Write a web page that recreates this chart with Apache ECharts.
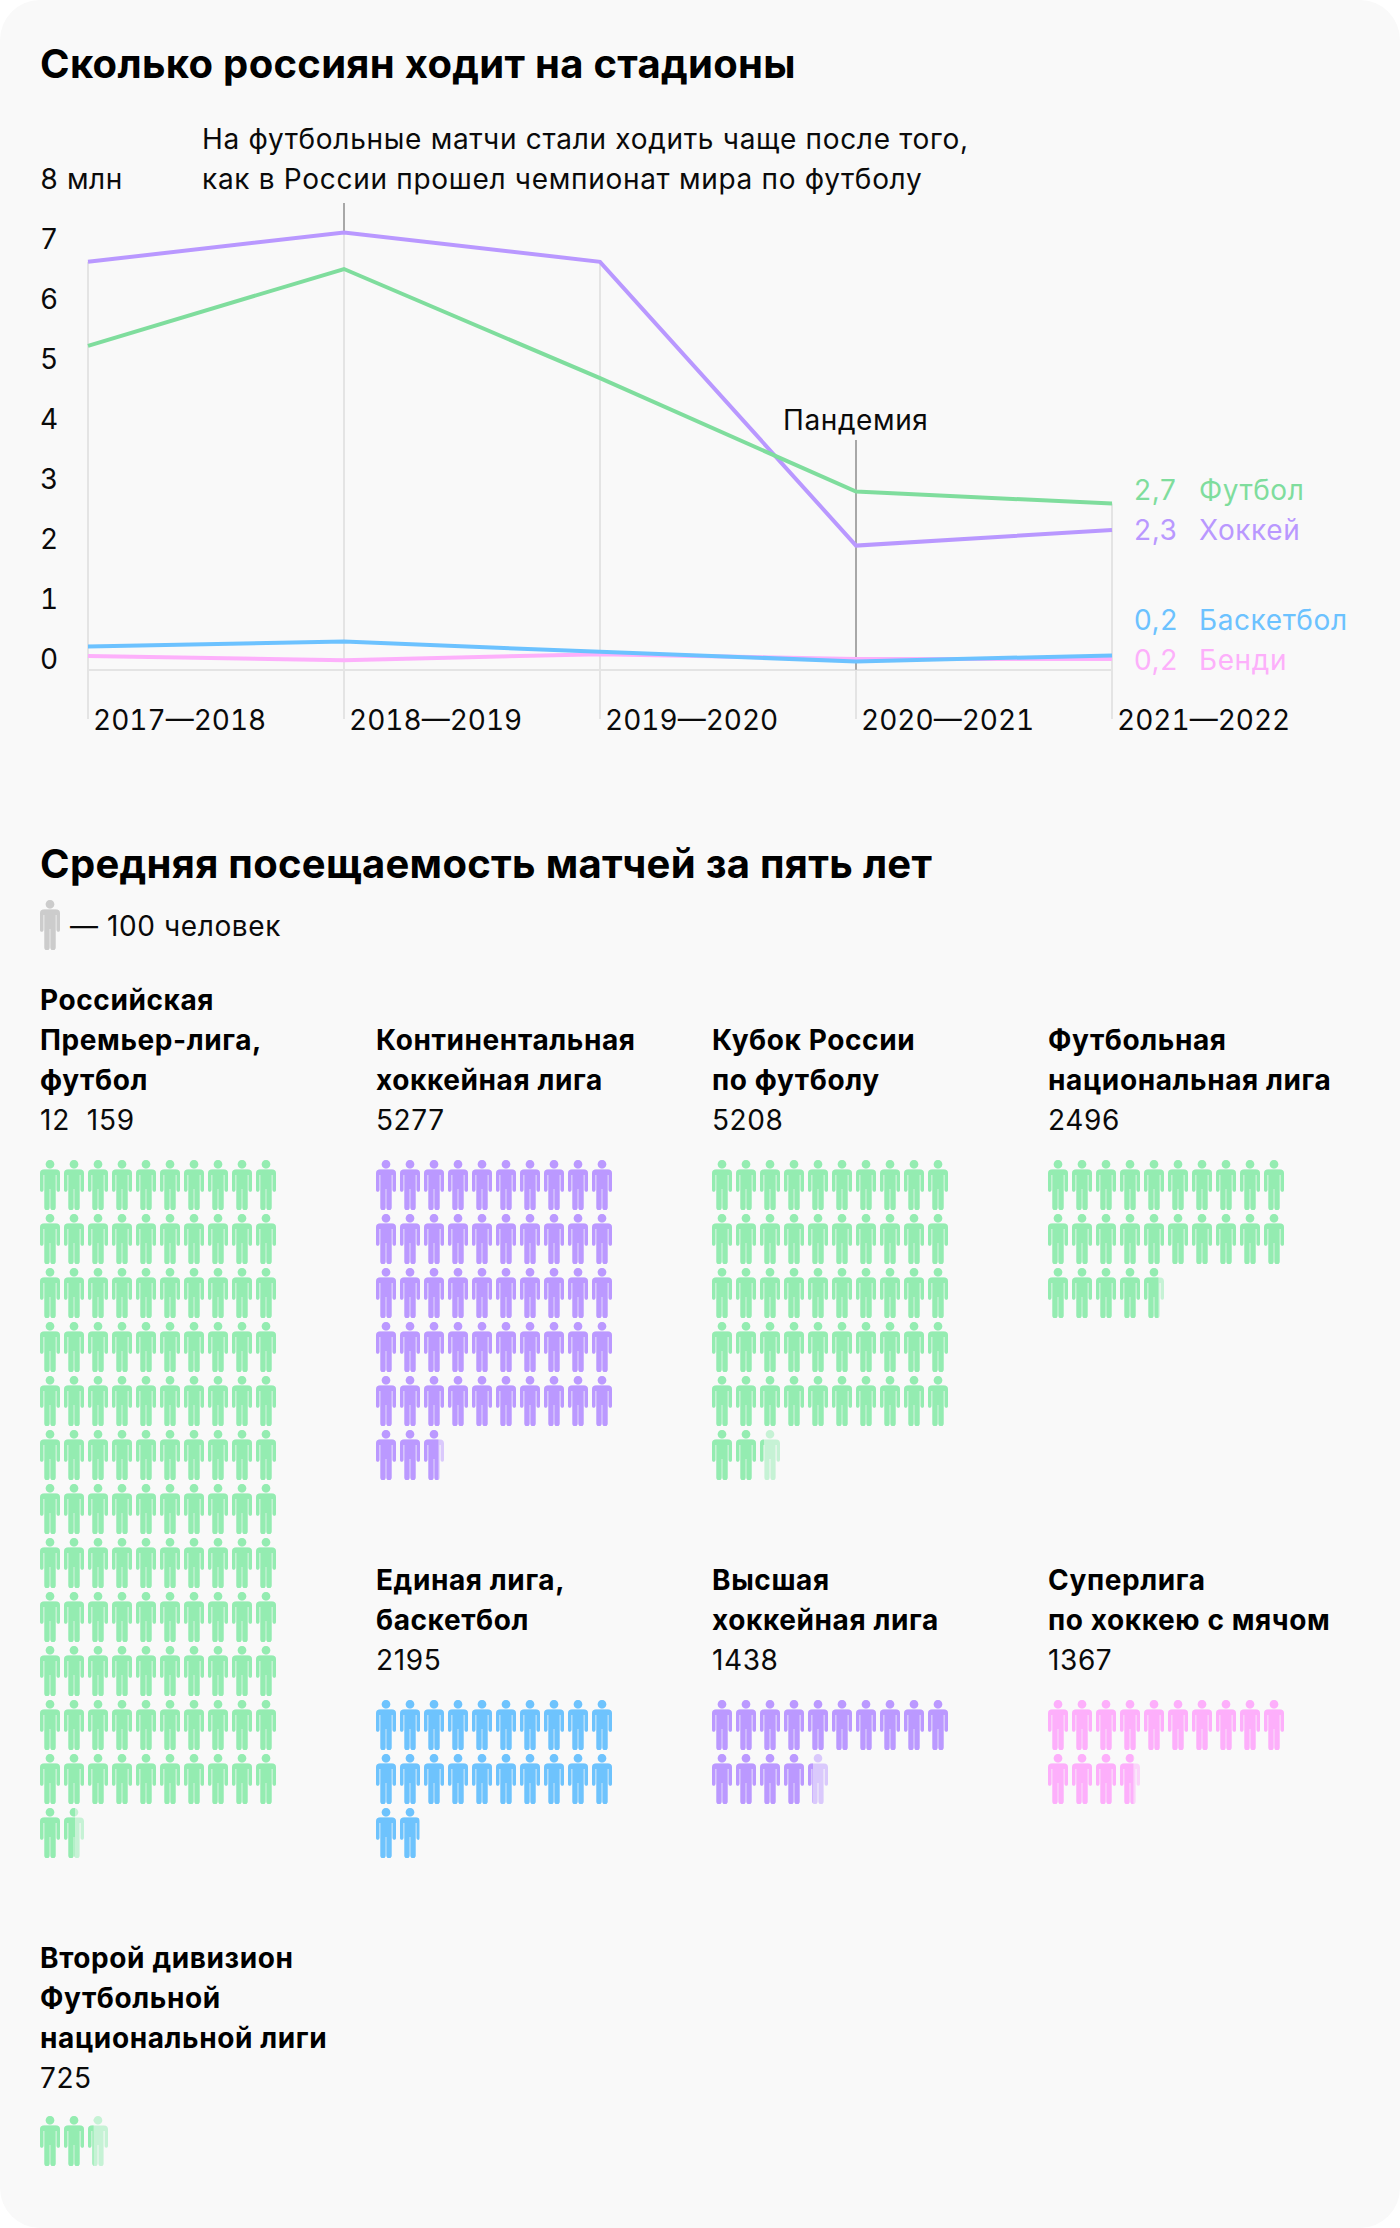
<!DOCTYPE html>
<html><head><meta charset="utf-8">
<style>html,body{margin:0;padding:0;background:#fff}#c{width:1400px;height:2228px;background:#f9f9f9;border-radius:40px;overflow:hidden}
#c svg text{font-feature-settings:"tnum" 1;font-variant-numeric:tabular-nums;letter-spacing:.6px}
#c svg text[style*="40px"]{letter-spacing:.3px}
#c svg text[style*="Roboto"]{letter-spacing:.7px}
#c svg text:not([style*="Noto"]){letter-spacing:0}
#c svg text[style*="Lato"]{word-spacing:8px;letter-spacing:.8px}</style>
<script src="https://cdn.jsdelivr.net/npm/echarts@6/dist/echarts.min.js"></script>
</head><body><div id="c"></div>
<script>
// ---- line chart data
const seasons = ['2017—2018','2018—2019','2019—2020','2020—2021','2021—2022'];
const football = [5.22,6.5,4.68,2.79,2.59];
const hockey = [6.62,7.11,6.62,1.89,2.15];
const basketball = [0.21,0.29,0.12,-0.04,0.06];
const bandy = [0.05,-0.02,0.08,0,0];
const endValues = ['2,7','2,3','0,2','0,2'];
const endNames = ['Футбол','Хоккей','Баскетбол','Бенди'];
// top of each light guide line, and dark annotation guides [season index, from, to]
const guideTops = [6.62,7.11,6.62,3.65,2.59];
const darkGuides = [[1,7.11,7.6],[3,-0.18,3.65]];
const axisBase = -0.18;
// ---- attendance data
const leagueNames = [
 ['Российская','Премьер-лига,','футбол'],
 ['Континентальная','хоккейная лига'],
 ['Кубок России','по футболу'],
 ['Футбольная','национальная лига'],
 ['Единая лига,','баскетбол'],
 ['Высшая','хоккейная лига'],
 ['Суперлига','по хоккею с мячом'],
 ['Второй дивизион','Футбольной','национальной лиги']
];
const leagueLabels = ['12 159','5277','5208','2496','2195','1438','1367','725'];
// figures as drawn in the picture (one figure = 100 people)
const leagueFigures = [121.55,52.72,52.2,24.72,21.95,14.25,13.67,2.28];
const leagueSport = ['football','hockey','football','football','basketball','hockey','bandy','football'];

// ---- styles and layout
const FONT = 'Inter, "Noto Sans", sans-serif';
const FONT_ANNOT = 'Inter, "Noto Sans", Roboto, sans-serif';
const FONT_GAP = 'Inter, Lato, sans-serif';
const lineColors = {football:'#7fdd9d',hockey:'#b998ff',basketball:'#6cc2ff',bandy:'#fdb0fb'};
const personColors = {football:'#94ecb1',hockey:'#bb99ff',basketball:'#6ec3fd',bandy:'#fdaffb'};
const blockX = [40,376,712,1048,376,712,1048,40];
const blockY = [1160,1160,1160,1160,1700,1700,1700,2116];
const labelY = [1120,1120,1120,1120,1660,1660,1660,2078];
const PERSON = 'path://M10 0a4.3 4.3 0 1 1 0 8.6a4.3 4.3 0 1 1 0-8.6ZM4 9.6H16A4 4 0 0 1 20 13.6V30.2A1.7 1.7 0 0 1 16.6 30.2V15H15.6V47.6A2.4 2.4 0 0 1 10.45 47.6V29H9.55V47.6A2.4 2.4 0 0 1 4.4 47.6V15H3.4V30.2A1.7 1.7 0 0 1 0 30.2V13.6A4 4 0 0 1 4 9.6Z';

const grids=[], xAxes=[], yAxes=[], series=[], graphics=[];
function text(t,x,y,size,weight,fill,family){
  graphics.push({type:'text',x,y,silent:true,style:{text:t,fill:fill||'#0a0a0a',font:`${weight||400} ${size}px ${family||FONT}`,verticalAlign:'middle',textVerticalAlign:'middle',align:'left'}});
}

// line chart: value 0 at y=659, one unit = 60px
grids.push({left:88,width:1024,top:179,height:540});
xAxes.push({type:'category',data:seasons,boundaryGap:false,position:'bottom',
  axisLine:{show:false},
  axisTick:{show:true,length:11,alignWithLabel:true,lineStyle:{color:'#e6e6e6',width:2}},
  axisLabel:{interval:0,align:'left',verticalAlign:'middle',margin:1,padding:[0,0,0,5],color:'#0a0a0a',fontFamily:'Inter, sans-serif',fontSize:28,hideOverlap:false,showMinLabel:true,showMaxLabel:true},
  splitLine:{show:false}});
yAxes.push({type:'value',min:-1,max:8,interval:1,
  axisLine:{show:false},axisTick:{show:false},splitLine:{show:false},
  axisLabel:{align:'left',margin:48,padding:[5,0,0,0],color:'#0a0a0a',fontFamily:FONT,fontSize:28,formatter:v=>v===8?'8 млн':(v<0?'':String(v))}});
const lightLines = seasons.map((s,i)=>[{coord:[s,guideTops[i]]},{coord:[s,-1]}]);
lightLines.push([{coord:[seasons[0],axisBase]},{coord:[seasons[4],axisBase]}]);
const darkLines = darkGuides.map(g=>[{coord:[seasons[g[0]],g[1]]},{coord:[seasons[g[0]],g[2]]}]);
series.push({type:'line',name:'guides',data:[],xAxisIndex:0,yAxisIndex:0,silent:true,z:1,
  markLine:{silent:true,symbol:'none',z:1,animation:false,label:{show:false},lineStyle:{color:'#e4e4e4',width:2,type:'solid'},data:lightLines}});
series.push({type:'line',name:'guidesDark',data:[],xAxisIndex:0,yAxisIndex:0,silent:true,z:1,
  markLine:{silent:true,symbol:'none',z:2,animation:false,label:{show:false},lineStyle:{color:'#a8a8a8',width:2,type:'solid'},data:darkLines}});
[['bandy',bandy],['basketball',basketball],['hockey',hockey],['football',football]].forEach(([k,d])=>{
  series.push({type:'line',name:k,data:d,xAxisIndex:0,yAxisIndex:0,showSymbol:false,symbol:'none',clip:false,z:3,silent:true,
    lineStyle:{color:lineColors[k],width:4,join:'miter',cap:'butt'},animation:false});
});

// pictogram block helper
function pictogram(x,top,persons,color){
  const idx=grids.length, rows=Math.ceil(persons/10);
  grids.push({left:x-2,top:top-2,width:240,height:rows*54});
  xAxes.push({type:'value',gridIndex:idx,min:0,max:10,show:false});
  yAxes.push({type:'category',gridIndex:idx,inverse:true,show:false,data:Array.from({length:rows},(_,i)=>i)});
  const full=[],base=[];
  for(let r=0;r<rows;r++){
    const p=Math.min(10,persons-r*10), whole=Math.floor(p+1e-9), fr=p-whole;
    full.push(fr>1e-9?whole+(2+fr*20)/24:whole);
    base.push(Math.ceil(p-1e-9));
  }
  const common={type:'pictorialBar',xAxisIndex:idx,yAxisIndex:idx,symbol:PERSON,symbolSize:[20,50],symbolRepeat:10,
    symbolMargin:'2!',symbolClip:true,symbolBoundingData:10,symbolPosition:'start',barGap:'-100%',silent:true,animation:false};
  series.push(Object.assign({},common,{data:base,z:2,itemStyle:{color,opacity:0.5}}));
  series.push(Object.assign({},common,{data:full,z:3,itemStyle:{color}}));
}

// titles and annotations
text('Сколько россиян ходит на стадионы',40,63,40,700,'#000');
text('На футбольные матчи стали ходить чаще после того,',202,139,28,400,null,FONT_ANNOT);
text('как в России прошел чемпионат мира по футболу',202,179,28,400,null,FONT_ANNOT);
text('Пандемия',783,420,28);
['football','hockey','basketball','bandy'].forEach((k,i)=>{
  const y=[490,530,620,660][i];
  text(endValues[i],1134,y,28,400,lineColors[k]);
  text(endNames[i],1199,y,28,400,lineColors[k]);
});
text('Средняя посещаемость матчей за пять лет',40,863,40,700,'#000');
text('— 100 человек',70,926,28);
pictogram(40,900,1,'#cccccc');

leagueFigures.forEach((v,i)=>{
  const n=leagueNames[i];
  n.forEach((l,j)=>text(l,blockX[i],labelY[i]-(n.length-j)*40,28,700,'#000'));
  text(leagueLabels[i],blockX[i],labelY[i],28,400,null,i===0?FONT_GAP:FONT);
  pictogram(blockX[i],blockY[i],v,personColors[leagueSport[i]]);
});

const chart=echarts.init(document.getElementById('c'),null,{renderer:'svg'});
chart.setOption({animation:false,backgroundColor:'transparent',grid:grids,xAxis:xAxes,yAxis:yAxes,series,graphic:graphics,tooltip:{show:false}});
</script></body></html>
